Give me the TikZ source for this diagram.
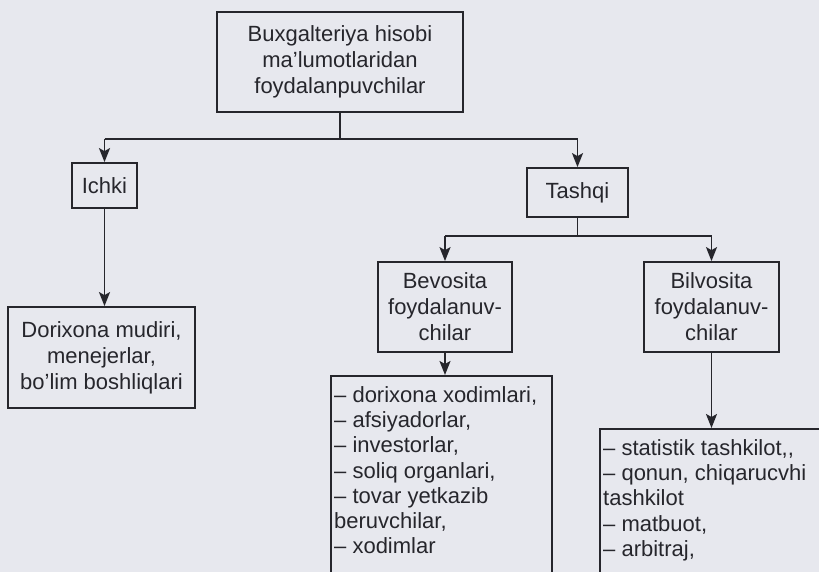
\documentclass[tikz,border=0pt]{standalone}
\usepackage{fontspec}
\setmainfont{Liberation Sans}
\usetikzlibrary{arrows.meta}
\definecolor{bgc}{RGB}{231,232,238}
\definecolor{ink}{RGB}{38,38,44}
\tikzset{
  box/.style={draw=ink, line width=1.8pt, rectangle, inner sep=0pt, align=center,
     text=ink, font=\fontsize{22}{26}\selectfont},
  listtext/.style={anchor=north west, inner sep=0pt, align=left, text=ink,
     font=\fontsize{22}{25.3}\selectfont},
  conn/.style={draw=ink, line width=1.6pt},
  arr/.style={conn, -{Stealth[length=14pt,width=11pt,inset=3pt]}}
}
\begin{document}
\begin{tikzpicture}[x=1pt,y=-1pt]
\clip (0,0) rectangle (819,572);
\fill[bgc] (0,0) rectangle (819,572);

\node[box, minimum width=246pt, minimum height=100pt] (top) at (340,62)
  {Buxgalteriya hisobi\\ma'lumotlaridan\\foydalanpuvchilar};
\node[box, minimum width=65pt, minimum height=45pt] (ichki) at (104.5,185.5) {Ichki};
\node[box, minimum width=101pt, minimum height=49pt] (tashqi) at (577.5,192.5) {Tashqi};
\node[box, minimum width=187pt, minimum height=101pt] (dori) at (101.5,357.5)
  {Dorixona mudiri,\\menejerlar,\\bo'lim boshliqlari};
\node[box, minimum width=134pt, minimum height=90pt] (bevo) at (445,307)
  {Bevosita\\foydalanuv-\\chilar};
\node[box, minimum width=135pt, minimum height=90pt] (bilvo) at (711.5,307)
  {Bilvosita\\foydalanuv-\\chilar};
\node[box, anchor=north west, minimum width=221pt, minimum height=230pt] (list1) at (330,375) {};
\node[listtext] (list1t) at ([xshift=4pt,yshift=-11pt]list1.north west)
  {-- dorixona xodimlari,\\-- afsiyadorlar,\\-- investorlar,\\-- soliq organlari,\\-- tovar yetkazib\\beruvchilar,\\-- xodimlar};
\node[box, anchor=north west, minimum width=260pt, minimum height=180pt] (list2) at (599,428) {};
\node[listtext] (list2t) at ([xshift=4pt,yshift=-11pt]list2.north west)
  {-- statistik tashkilot,{},\\-- qonun, chiqarucvhi\\tashkilot\\-- matbuot,\\-- arbitraj,};

% connectors
\draw[conn] (top.south) -- ++(0,26) coordinate (j1);
\draw[conn] (j1 -| ichki.north) -- (j1 -| tashqi.north);
\draw[arr] (j1 -| ichki.north) -- (ichki.north);
\draw[arr] (j1 -| tashqi.north) -- (tashqi.north);
\draw[arr] (ichki.south) -- (ichki.south |- dori.north);
\draw[conn] (tashqi.south) -- ++(0,18) coordinate (j2);
\draw[conn] (j2 -| bevo.north) -- (j2 -| bilvo.north);
\draw[arr] (j2 -| bevo.north) -- (bevo.north);
\draw[arr] (j2 -| bilvo.north) -- (bilvo.north);
\draw[arr] (bevo.south) -- (bevo.south |- list1.north);
\draw[arr] (bilvo.south) -- (bilvo.south |- list2.north);
\end{tikzpicture}
\end{document}
